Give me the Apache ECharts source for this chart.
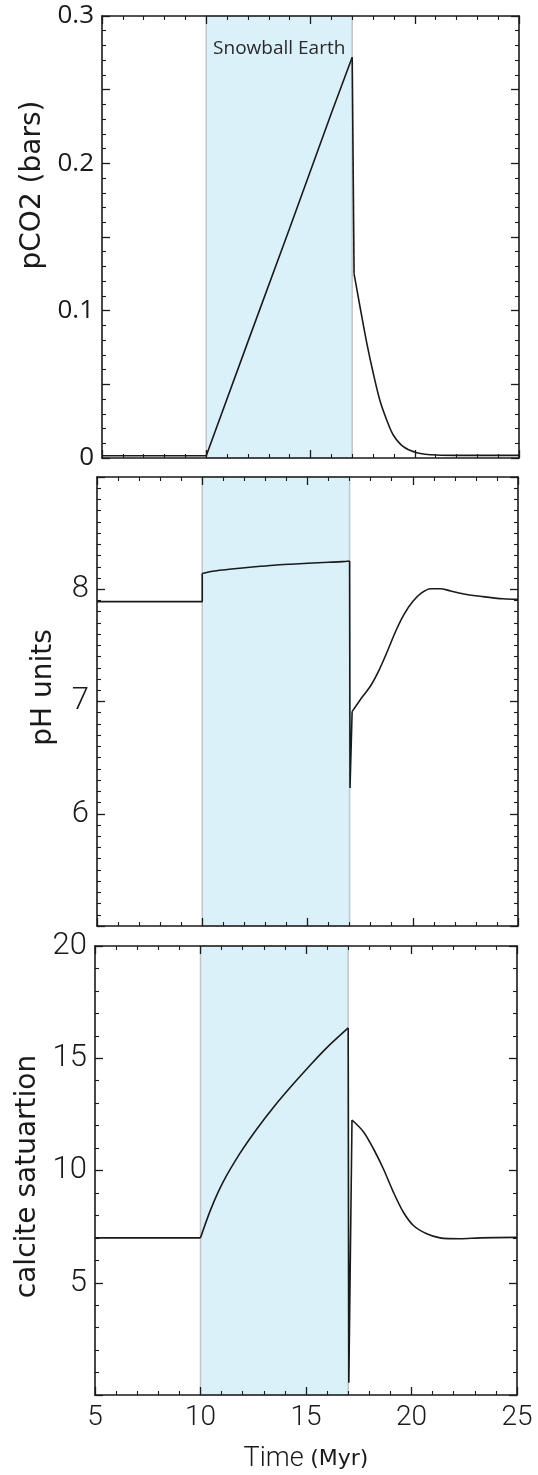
<!DOCTYPE html>
<html><head><meta charset="utf-8">
<script src="https://cdn.jsdelivr.net/npm/echarts@6/dist/echarts.min.js"></script>
<style>html,body{margin:0;padding:0;background:#fff;}#c{width:538px;height:1475px;}</style>
</head><body><div id="c"></div>
<script>
// ---- data ----
const snowball = [10, 17];
const snowballLabel = 'Snowball Earth';

const co2Time  = [5, 10, 12, 14, 16, 17, 17.09, 17.37, 17.7, 18.01, 18.33, 18.65, 18.97, 19.45, 20.09, 21.05, 22, 25];
const co2Value = [0.0015, 0.0015, 0.079, 0.156, 0.234, 0.272, 0.125, 0.103, 0.078, 0.0575, 0.039, 0.026, 0.0156, 0.0077, 0.0036, 0.002, 0.0018, 0.0018];

const phTime  = [5, 10, 10, 10.5, 11, 11.78, 12.5, 13.4, 14.2, 15.02, 16, 16.65, 17, 17.02, 17.12, 17.6, 18.0, 18.4, 18.8, 19.2, 19.6, 20.0, 20.4, 20.85, 21.3, 21.8, 22.5, 23.3, 24.3, 25];
const phValue = [7.89, 7.89, 8.14, 8.16, 8.172, 8.187, 8.20, 8.214, 8.223, 8.231, 8.240, 8.246, 8.252, 6.23, 6.91, 7.04, 7.14, 7.28, 7.45, 7.63, 7.78, 7.89, 7.965, 8.005, 8.005, 7.985, 7.955, 7.935, 7.915, 7.91];

const calTime  = [5, 10, 10.5, 11.05, 11.86, 12.67, 13.49, 14.3, 15.11, 15.93, 17.0, 17.03, 17.18, 17.72, 18.19, 18.66, 19.14, 19.61, 20.09, 20.72, 21.35, 22.3, 23.25, 25];
const calValue = [7.0, 7.0, 8.3, 9.45, 10.75, 11.85, 12.85, 13.75, 14.6, 15.42, 16.35, 0.55, 12.25, 11.73, 10.98, 10.09, 9.04, 8.15, 7.55, 7.18, 7.0, 6.96, 7.0, 7.02];

const xTicks = [5, 10, 15, 20, 25];

// ---- chart ----
const zip = (a, b) => a.map((t, i) => [t, b[i]]);
const ink = '#1a1a1a';
const grids = [
  {left: 102, top: 16,  width: 417, height: 442},
  {left: 97,  top: 477, width: 421, height: 449},
  {left: 95,  top: 946, width: 422, height: 449}
];

function xAx(gi, pos, labels) {
  return {
    type: 'value', gridIndex: gi, position: pos, min: xTicks[0], max: xTicks[xTicks.length-1], interval: 5, z: 5,
    axisLine: {show: true, onZero: false, lineStyle: {color: ink, width: 1.6}},
    axisTick: {show: true, inside: true, length: 8, lineStyle: {color: ink, width: 1.3}},
    minorTick: {show: true, splitNumber: 5, length: 4, lineStyle: {color: ink, width: 1.1}},
    splitLine: {show: false},
    axisLabel: {show: labels, margin: 9, fontFamily: 'Roboto', fontWeight: 300, fontSize: 28, color: '#1a1a1a'},
    name: labels ? '{a|Time }{b|(Myr)}' : '',
    nameLocation: 'middle', nameGap: 51,
    nameTextStyle: {rich: {a: {fontFamily: 'Roboto', fontWeight: 300, fontSize: 27, color: '#1a1a1a'},
                           b: {fontFamily: 'DejaVu Sans', fontSize: 22, color: '#1a1a1a'}}}
  };
}
function yAx(gi, pos, cfg) {
  const labels = pos === 'left';
  return Object.assign({
    type: 'value', gridIndex: gi, position: pos, z: 5,
    axisLine: {show: true, onZero: false, lineStyle: {color: ink, width: 1.6}},
    axisTick: {show: true, inside: true, length: 8, lineStyle: {color: ink, width: 1.3}},
    splitLine: {show: false},
    nameLocation: 'middle', nameRotate: 90
  }, cfg, {
    axisLabel: Object.assign({show: labels, margin: 8, color: '#1a1a1a', showMinLabel: true, showMaxLabel: true}, cfg.axisLabel),
    name: labels ? cfg.name : ''
  });
}

const nameStyle = {fontFamily: 'DejaVu Sans', fontSize: 28, color: '#1a1a1a'};
const y1 = {min: 0, max: 0.3, interval: 0.05,
  minorTick: {show: true, splitNumber: 5, length: 4, lineStyle: {color: ink, width: 1.1}},
  axisLabel: {fontFamily: 'Open Sans', fontSize: 26,
    formatter: v => { const k = Math.round(v * 100); return k % 10 === 0 ? (k === 0 ? '0' : (k/100).toFixed(1)) : ''; }},
  name: 'pCO2 (bars)', nameGap: 50,
  nameTextStyle: Object.assign({padding: [0, 0, 0, 104]}, nameStyle)};
const y2 = {min: 5, max: 9, interval: 1,
  minorTick: {show: true, splitNumber: 10, length: 4, lineStyle: {color: ink, width: 1.1}},
  axisLabel: {fontFamily: 'Roboto', fontWeight: 300, fontSize: 31, formatter: v => (v > 5 && v < 9) ? String(v) : ''},
  name: 'pH units', nameGap: 39,
  nameTextStyle: Object.assign({padding: [0, 0, 0, 28]}, nameStyle)};
const y3 = {min: 0, max: 20, interval: 5,
  minorTick: {show: true, splitNumber: 5, length: 4, lineStyle: {color: ink, width: 1.1}},
  axisLabel: {fontFamily: 'Roboto', fontWeight: 300, fontSize: 31, formatter: v => v > 0 ? String(v) : ''},
  name: 'calcite satuartion', nameGap: 46,
  nameTextStyle: Object.assign({padding: [0, 12, 0, 0]}, nameStyle)};

function shade(withLabel) {
  return {
    silent: true,
    itemStyle: {color: '#dbf1fa', borderColor: '#c2c6c8', borderWidth: 1.5},
    label: withLabel ? {show: true, position: 'insideTop', distance: 24, formatter: snowballLabel,
      fontFamily: 'Open Sans', fontSize: 19, color: '#2a2a2a'} : {show: false},
    data: [[{xAxis: snowball[0]}, {xAxis: snowball[1]}]]
  };
}
// pieces: [startIndex, endIndex, smooth]
function pieces(gi, t, v, parts, withLabel) {
  const all = zip(t, v);
  return parts.map(([s, e, sm], k) => {
    const o = {type: 'line', xAxisIndex: gi * 2, yAxisIndex: gi * 2, data: all.slice(s, e + 1),
      showSymbol: false, symbol: 'none', lineStyle: {color: ink, width: 1.6}, z: 2,
      smooth: sm ? 0.3 : false, animation: false};
    if (k === 0) o.markArea = shade(withLabel);
    return o;
  });
}

const chart = echarts.init(document.getElementById('c'), null, {renderer: 'canvas'});
chart.setOption({
  animation: false,
  grid: grids,
  xAxis: [xAx(0, 'bottom', false), xAx(0, 'top', false),
          xAx(1, 'bottom', false), xAx(1, 'top', false),
          xAx(2, 'bottom', true),  xAx(2, 'top', false)],
  yAxis: [yAx(0, 'left', y1), yAx(0, 'right', y1),
          yAx(1, 'left', y2), yAx(1, 'right', y2),
          yAx(2, 'left', y3), yAx(2, 'right', y3)],
  series: [].concat(
    pieces(0, co2Time, co2Value, [[0, 5, false], [5, 6, false], [6, co2Time.length - 1, true]], true),
    pieces(1, phTime, phValue, [[0, 2, false], [2, 12, true], [12, 14, false], [14, phTime.length - 1, true]], false),
    pieces(2, calTime, calValue, [[0, 1, false], [1, 10, true], [10, 12, false], [12, calTime.length - 1, true]], false)
  )
});
</script></body></html>
